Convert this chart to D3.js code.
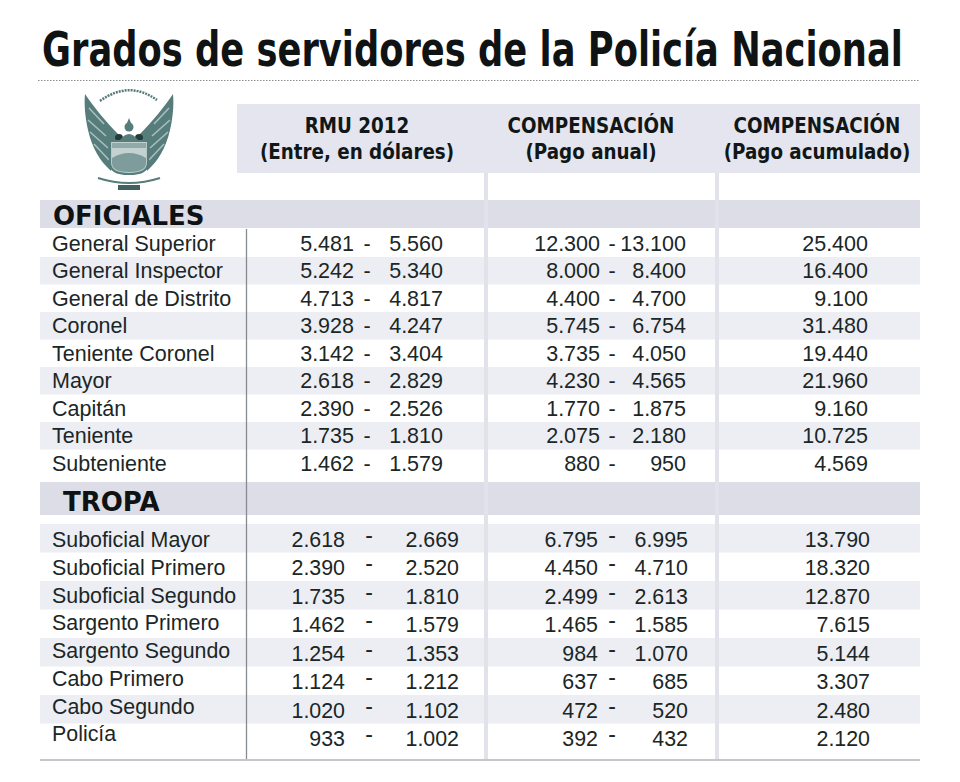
<!DOCTYPE html>
<html><head><meta charset="utf-8">
<script src="https://cdn.jsdelivr.net/npm/d3@7"></script>
<style>body{margin:0;background:#fff;} svg{display:block}</style>
</head><body>
<svg id="chart" width="960" height="782"></svg>
<script>
// ---------- DATA ----------
const title = "Grados de servidores de la Policía Nacional";
const columnHeaders = [
  ["RMU 2012", "(Entre, en dólares)"],
  ["COMPENSACIÓN", "(Pago anual)"],
  ["COMPENSACIÓN", "(Pago acumulado)"]
];
const sectionNames = ["OFICIALES", "TROPA"];

const oficialesGrades = ["General Superior","General Inspector","General de Distrito","Coronel","Teniente Coronel","Mayor","Capitán","Teniente","Subteniente"];
const oficialesRmuMin  = [5481,5242,4713,3928,3142,2618,2390,1735,1462];
const oficialesRmuMax  = [5560,5340,4817,4247,3404,2829,2526,1810,1579];
const oficialesCompMin = [12300,8000,4400,5745,3735,4230,1770,2075,880];
const oficialesCompMax = [13100,8400,4700,6754,4050,4565,1875,2180,950];
const oficialesAcum    = [25400,16400,9100,31480,19440,21960,9160,10725,4569];

const tropaGrades = ["Suboficial Mayor","Suboficial Primero","Suboficial Segundo","Sargento Primero","Sargento Segundo","Cabo Primero","Cabo Segundo","Policía"];
const tropaRmuMin  = [2618,2390,1735,1462,1254,1124,1020,933];
const tropaRmuMax  = [2669,2520,1810,1579,1353,1212,1102,1002];
const tropaCompMin = [6795,4450,2499,1465,984,637,472,392];
const tropaCompMax = [6995,4710,2613,1585,1070,685,520,432];
const tropaAcum    = [13790,18320,12870,7615,5144,3307,2480,2120];

// ---------- RENDER ----------
const svg = d3.select("#chart");
const fmt = d3.formatLocale({decimal: ",", thousands: ".", grouping: [3], currency: ["$", ""]}).format(",d");
const INK = "#1b2626";
const BODY_FONT = "'Liberation Sans', Arimo, Arial, sans-serif";
const HEAVY = "'DejaVu Sans', sans-serif";

svg.append("rect").attr("width", 960).attr("height", 782).attr("fill", "#fff");

// title (bold, horizontally compressed to span the rule)
const tt = svg.append("text").attr("x", 0).attr("y", 0)
  .attr("font-family", HEAVY).attr("font-weight", 700)
  .attr("font-size", 48).attr("fill", "#0f1313").text(title);
const tW = tt.node().getComputedTextLength();
tt.attr("transform", `translate(42,66) scale(${861 / tW},1)`);

// dotted rule
svg.append("line").attr("x1", 38).attr("x2", 920).attr("y1", 80.5).attr("y2", 80.5)
  .attr("stroke", "#8c8f93").attr("stroke-width", 1.2).attr("stroke-dasharray", "1.5,1.5");

// header band
svg.append("rect").attr("x", 237).attr("y", 104).attr("width", 683).attr("height", 69).attr("fill", "#e4e5ee");

const headerX = d3.scaleOrdinal().domain([0,1,2]).range([357, 591, 817]);
const hdr = svg.append("g").attr("font-family", HEAVY)
  .attr("font-weight", 700).attr("fill", "#111717").attr("text-anchor", "middle").attr("font-size", 21);
const probe = hdr.append("text").text(columnHeaders[1][0]);
const hScale = 167 / probe.node().getComputedTextLength();
probe.remove();
columnHeaders.forEach((h, i) => {
  hdr.append("text").attr("transform", `translate(${headerX(i)},133) scale(${hScale},1)`).text(h[0]);
  hdr.append("text").attr("transform", `translate(${headerX(i)},159) scale(${hScale},1)`).text(h[1]);
});

// section bands
const sectionY = [200, 482];
const sectionH = [28, 33];
sectionNames.forEach((s, i) => {
  svg.append("rect").attr("x", 40).attr("y", sectionY[i]).attr("width", 880).attr("height", sectionH[i]).attr("fill", "#dcdde7");
});

// row scales
const yOfi = d3.scaleBand().domain(d3.range(oficialesGrades.length)).range([229.5, 477]);
const yTropaVal = d3.scaleBand().domain(d3.range(tropaGrades.length)).range([524, 752]);
const yTropaLab = d3.scaleBand().domain(d3.range(tropaGrades.length)).range([525, 747]);

function drawStripes(cfg) {
  svg.append("g").selectAll("rect").data(cfg.grades.map((d, i) => i).filter(i => i % 2 === cfg.parity))
    .join("rect")
    .attr("x", 40).attr("width", 880)
    .attr("y", i => cfg.yVal(i)).attr("height", cfg.yVal.bandwidth())
    .attr("fill", "#eceef4");
}
function drawTexts(cfg) {
  const g = svg.append("g").attr("font-family", BODY_FONT).attr("fill", INK).attr("font-size", cfg.fs);
  const capOff = cfg.fs * 0.36;
  const cyL = i => cfg.yLab(i) + cfg.yLab.bandwidth() / 2 + capOff;
  const cyV = i => cfg.yVal(i) + cfg.yVal.bandwidth() / 2 + capOff;
  const sx = cfg.sx;
  g.selectAll("text.lab").data(cfg.grades).join("text").attr("class", "lab")
    .attr("transform", (d, i) => `translate(52,${cyL(i)}) scale(${sx},1)`).text(d => d);
  const cols = cfg.cols;
  const right = (arr, x, cls) => g.selectAll("text." + cls).data(arr).join("text").attr("class", cls)
      .attr("transform", (d, i) => `translate(${x},${cyV(i)}) scale(${sx},1)`)
      .attr("text-anchor", "end").text(d => fmt(d));
  right(cfg.rmuMin, cols.rmuLo, "rlo");
  right(cfg.rmuMax, cols.rmuHi, "rhi");
  right(cfg.compMin, cols.compLo, "clo");
  right(cfg.compMax, cols.compHi, "chi");
  right(cfg.acum, cols.acum, "acu");
  const dash = (x, cls) => g.selectAll("text." + cls).data(cfg.grades).join("text").attr("class", cls)
      .attr("x", x).attr("y", (d, i) => cyV(i) + cfg.dashDy).attr("text-anchor", "middle").text("-");
  dash(cols.rmuDash, "rd");
  dash(cols.compDash, "cd");
}

const ofiCfg = {grades: oficialesGrades, rmuMin: oficialesRmuMin, rmuMax: oficialesRmuMax,
  compMin: oficialesCompMin, compMax: oficialesCompMax, acum: oficialesAcum,
  yLab: yOfi, yVal: yOfi, parity: 1, fs: 21.5, sx: 1, dashDy: 0,
  cols: {rmuLo: 354, rmuDash: 367, rmuHi: 443, compLo: 600, compDash: 612, compHi: 686, acum: 868}};
const troCfg = {grades: tropaGrades, rmuMin: tropaRmuMin, rmuMax: tropaRmuMax,
  compMin: tropaCompMin, compMax: tropaCompMax, acum: tropaAcum,
  yLab: yTropaLab, yVal: yTropaVal, parity: 0, fs: 23, sx: 0.93, dashDy: -4,
  cols: {rmuLo: 345, rmuDash: 369, rmuHi: 459, compLo: 598, compDash: 612, compHi: 688, acum: 870}};

drawStripes(ofiCfg);
drawStripes(troCfg);

// column separators
[486, 717].forEach(x => {
  svg.append("line").attr("x1", x).attr("x2", x).attr("y1", 173).attr("y2", 760)
    .attr("stroke", "#e2e3ea").attr("stroke-width", 4);
});
// thin dark vertical rule
svg.append("line").attr("x1", 246.5).attr("x2", 246.5).attr("y1", 229).attr("y2", 760)
  .attr("stroke", "#868b90").attr("stroke-width", 1.3);
// bottom rule
svg.append("line").attr("x1", 40).attr("x2", 920).attr("y1", 760).attr("y2", 760)
  .attr("stroke", "#c6c7cc").attr("stroke-width", 2);

// section titles
const secX = [53, 63];
const secBase = [225, 511];
sectionNames.forEach((s, i) => {
  svg.append("text").attr("x", secX[i]).attr("y", secBase[i])
    .attr("font-family", HEAVY).attr("font-weight", 700)
    .attr("font-size", 26).attr("fill", "#0e1212").text(s);
});

drawTexts(ofiCfg);
drawTexts(troCfg);

// ---------- emblem ----------
const EM = "#567c7b";
const em = svg.append("g").attr("fill", EM).attr("stroke", "none");
const wing = "M85,94 C94,107 105,121 119,135 L113,142 L111,171 C100,161 92,148 88,130 C85,117 84,104 85,94 Z";
const feathers = "M89,108 L104,124 M88,120 L106,136 M90,132 L108,148 M94,144 L109,160";
[null, "translate(258,0) scale(-1,1)"].forEach(t => {
  const w = em.append("g").attr("transform", t);
  w.append("path").attr("d", wing);
  w.append("path").attr("d", feathers).attr("stroke", "#a8c0be").attr("stroke-width", 1.6).attr("fill", "none");
});
// arc legend between wing tips
em.append("path").attr("d", "M100,101 Q129,80 157,100").attr("fill", "none")
  .attr("stroke", EM).attr("stroke-width", 2.5).attr("stroke-dasharray", "2,1");
// head and body
em.append("circle").attr("cx", 129).attr("cy", 127).attr("r", 4.5);
em.append("path").attr("d", "M129,118 L131,123 L127,123 Z");
em.append("circle").attr("cx", 119).attr("cy", 138).attr("r", 4).attr("fill", "#243d3c");
em.append("circle").attr("cx", 139).attr("cy", 138).attr("r", 4).attr("fill", "#243d3c");
em.append("path").attr("d", "M120,140 Q129,128 138,140 Z");
// shield
em.append("path").attr("d", "M110,141 L148,141 L148,163 Q148,174 129,174 Q110,174 110,163 Z")
  .attr("fill", "#c3d2d1").attr("stroke", EM).attr("stroke-width", 2.2);
em.append("path").attr("d", "M112,158 Q129,148 146,158 L146,163 Q146,172 129,172 Q112,172 112,163 Z").attr("fill", "#7d9c9b");
em.append("rect").attr("x", 112).attr("y", 143).attr("width", 34).attr("height", 5).attr("fill", "#8faaa9");
// bottom ribbon and base
em.append("path").attr("d", "M98,178 Q129,188 160,178").attr("fill", "none")
  .attr("stroke", EM).attr("stroke-width", 2);
em.append("rect").attr("x", 118).attr("y", 185).attr("width", 22).attr("height", 5).attr("fill", "#3f6261");
</script>
</body></html>
